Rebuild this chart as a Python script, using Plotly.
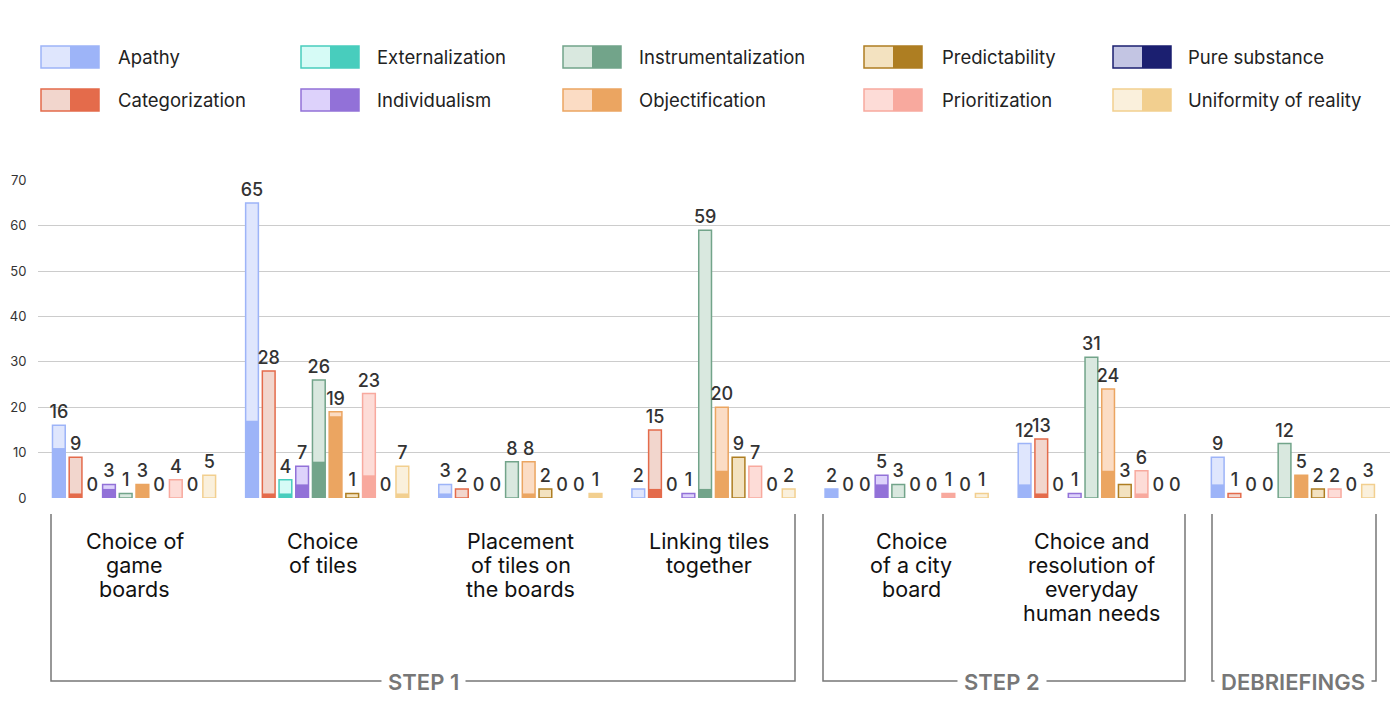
import plotly.graph_objects as go

# ---------------- data ----------------
categories = [
    "Choice of game boards",
    "Choice of tiles",
    "Placement of tiles on the boards",
    "Linking tiles together",
    "Choice of a city board",
    "Choice and resolution of everyday human needs",
    "Debriefings",
]
category_labels = [
    ["Choice of", "game", "boards"],
    ["Choice", "of tiles"],
    ["Placement", "of tiles on", "the boards"],
    ["Linking tiles", "together"],
    ["Choice", "of a city", "board"],
    ["Choice and", "resolution of", "everyday", "human needs"],
    [],
]
series = [
    "Apathy", "Categorization", "Externalization", "Individualism",
    "Instrumentalization", "Objectification", "Predictability",
    "Prioritization", "Pure substance", "Uniformity of reality",
]
apathy_total = [16, 65, 3, 2, 2, 12, 9]
apathy_inner = [11, 17, 1, 0, 2, 3, 3]
categorization_total = [9, 28, 2, 15, 0, 13, 1]
categorization_inner = [1, 1, 0, 2, 0, 1, 0]
externalization_total = [0, 4, 0, 0, 0, 0, 0]
externalization_inner = [0, 1, 0, 0, 0, 0, 0]
individualism_total = [3, 7, 0, 1, 5, 1, 0]
individualism_inner = [2, 3, 0, 0, 3, 0, 0]
instrumentalization_total = [1, 26, 8, 59, 3, 31, 12]
instrumentalization_inner = [0, 8, 0, 2, 0, 0, 0]
objectification_total = [3, 19, 8, 20, 0, 24, 5]
objectification_inner = [3, 18, 1, 6, 0, 6, 5]
predictability_total = [0, 1, 2, 9, 0, 3, 2]
predictability_inner = [0, 0, 0, 0, 0, 0, 0]
prioritization_total = [4, 23, 0, 7, 1, 6, 2]
prioritization_inner = [0, 5, 0, 0, 1, 1, 0]
pure_substance_total = [0, 0, 0, 0, 0, 0, 0]
pure_substance_inner = [0, 0, 0, 0, 0, 0, 0]
uniformity_total = [5, 7, 1, 2, 1, 0, 3]
uniformity_inner = [0, 1, 1, 0, 0, 0, 0]

totals = [apathy_total, categorization_total, externalization_total, individualism_total,
          instrumentalization_total, objectification_total, predictability_total,
          prioritization_total, pure_substance_total, uniformity_total]
inners = [apathy_inner, categorization_inner, externalization_inner, individualism_inner,
          instrumentalization_inner, objectification_inner, predictability_inner,
          prioritization_inner, pure_substance_inner, uniformity_inner]

light_colors = ["#dfe6fd", "#f2d6cd", "#d6fbf6", "#ddd2fb", "#d9e8df",
                "#fbdcc4", "#f3e2c0", "#fddcd7", "#c3c5e3", "#faf0dc"]
dark_colors = ["#9db4f8", "#e46b4b", "#48cdbd", "#9271d8", "#72a48a",
               "#eba561", "#ae7e22", "#f8a99e", "#1b1f70", "#f2cf8f"]

steps = [("STEP 1", 51, 795, 423), ("STEP 2", 823, 1185, 1002), ("DEBRIEFINGS", 1212, 1376, 1293)]
label_xshift = [0, -5, 0, -5, 4, -9, 0]

FONT = "Inter"
PAGE_X, PAGE_Y = 8, 8  # body margin of the html page
W, H = 1400, 700
L, R, T, B = 30, 18, 172, 210
PW, PH = W - L - R, H - T - B


def px(x):
    return (x - PAGE_X - L) / PW


def py(y):
    return (H - B - (y - PAGE_Y)) / PH


fig = go.Figure()
bar_w = 0.066
step = 0.0865
start = -0.425
for i, name in enumerate(series):
    off = start + i * step
    fig.add_trace(go.Bar(
        x=categories, y=totals[i], name=name,
        offset=off, width=bar_w,
        marker=dict(color=light_colors[i],
                    line=dict(color=dark_colors[i],
                              width=[1.5 if v > 0 else 0 for v in totals[i]])),
        text=[str(v) for v in totals[i]], textposition="outside",
        constraintext="none", cliponaxis=False,
        textfont=dict(family=FONT, size=18, color="#333333", weight=500),
        hoverinfo="skip", showlegend=False,
    ))
    fig.add_trace(go.Bar(
        x=categories, y=inners[i], name=name + " (inner)",
        offset=off, width=bar_w,
        marker=dict(color=dark_colors[i], line=dict(width=0)),
        hoverinfo="skip", showlegend=False,
    ))

shapes = []
annotations = []

# legend built from series list
col_sw = [41, 301, 563, 864, 1113]
col_tx = [116, 375, 637, 940, 1186]
row_y = [57, 100]
sw_w, sw_h = 58, 22
for i, name in enumerate(series):
    c, r = i // 2, i % 2
    x0 = col_sw[c]
    yc = row_y[r]
    shapes.append(dict(type="rect", xref="paper", yref="paper",
                       x0=px(x0), x1=px(x0 + sw_w / 2), y0=py(yc + sw_h / 2), y1=py(yc - sw_h / 2),
                       fillcolor=light_colors[i], line=dict(width=0)))
    shapes.append(dict(type="rect", xref="paper", yref="paper",
                       x0=px(x0 + sw_w / 2), x1=px(x0 + sw_w), y0=py(yc + sw_h / 2), y1=py(yc - sw_h / 2),
                       fillcolor=dark_colors[i], line=dict(width=0)))
    shapes.append(dict(type="rect", xref="paper", yref="paper",
                       x0=px(x0), x1=px(x0 + sw_w), y0=py(yc + sw_h / 2), y1=py(yc - sw_h / 2),
                       fillcolor="rgba(0,0,0,0)", line=dict(color=dark_colors[i], width=1.5)))
    annotations.append(dict(xref="paper", yref="paper", x=px(col_tx[c]), y=py(yc),
                            xanchor="left", yanchor="middle", showarrow=False, text=name,
                            font=dict(family=FONT, size=18.5, color="#222222")))

# category labels (one annotation per line for tight line spacing)
for i, cat in enumerate(categories):
    for k, line in enumerate(category_labels[i]):
        annotations.append(dict(xref="x", yref="paper", x=cat, y=py(541 + 24 * k),
                                xanchor="center", yanchor="middle", showarrow=False,
                                xshift=label_xshift[i], text=line,
                                font=dict(family=FONT, size=21.5, color="#111111")))

# step brackets
for lab, x0, x1, xc in steps:
    shapes.append(dict(type="path", xref="paper", yref="paper",
                       path=f"M {px(x0)} {py(514)} L {px(x0)} {py(681)} L {px(x1)} {py(681)} L {px(x1)} {py(514)}",
                       line=dict(color="#777777", width=1.5)))
    annotations.append(dict(xref="paper", yref="paper", x=px(xc), y=py(682),
                            xanchor="center", yanchor="middle", showarrow=False, text=lab,
                            bgcolor="white", borderpad=6,
                            font=dict(family=FONT, size=22, color="#777777", weight=600)))

fig.update_layout(
    width=W, height=H,
    margin=dict(l=L, r=R, t=T, b=B, autoexpand=False),
    barmode="overlay",
    plot_bgcolor="white", paper_bgcolor="white",
    font=dict(family=FONT),
    shapes=shapes, annotations=annotations,
    xaxis=dict(showticklabels=False, showgrid=False, zeroline=False, showline=False,
               range=[-0.5, 6.5], automargin=False),
    yaxis=dict(range=[0, 70.05], dtick=10, showgrid=True, gridcolor="#cccccc", gridwidth=1,
               zeroline=False, showline=False, ticks="outside", ticklen=8,
               tickcolor="rgba(0,0,0,0)", automargin=False,
               tickfont=dict(family=FONT, size=13, color="#333333")),
)

fig.write_html("out.html")
